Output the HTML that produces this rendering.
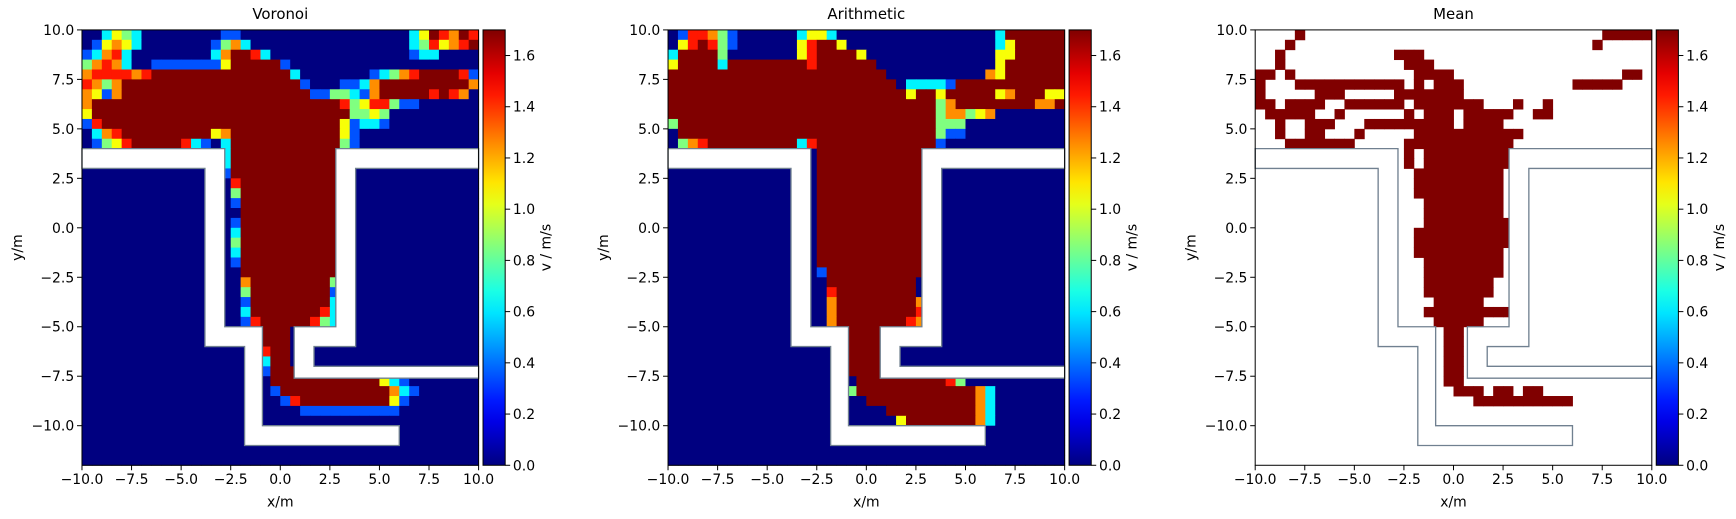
<!DOCTYPE html>
<html><head><meta charset="utf-8"><style>
html,body{margin:0;padding:0;background:#fff;overflow:hidden;}
svg{display:block;}
svg text{font-family:"DejaVu Sans","Liberation Sans",sans-serif;font-size:12.6px;fill:#000;}
</style></head><body>
<svg id="fig" xmlns="http://www.w3.org/2000/svg" width="1736" height="519" viewBox="0 0 1567 468.5" preserveAspectRatio="none">
<defs><linearGradient id="jetgrad" x1="0" y1="1" x2="0" y2="0"></linearGradient></defs>
</svg>
<script>
// ---- data ----
const panelTitles = ['Voronoi','Arithmetic','Mean'];
const xTicks = [-10,-7.5,-5,-2.5,0,2.5,5,7.5,10];
const yTicks = [10,7.5,5,2.5,0,-2.5,-5,-7.5,-10];
const cbTicks = [0,0.2,0.4,0.6,0.8,1.0,1.2,1.4,1.6];
const codeValues = {'.':0,'b':0.35,'c':0.62,'g':0.85,'y':1.05,'o':1.25,'r':1.45,'R':1.7};
const voronoiRows = [
"2.cygc8.2b17.cyRroRr",".byoyc7.bgoc16.cgryorR","bcorc8.coRRrc14.bcc4.","goroc2.7by5Rb19.",
"orrrror14Rc7.bcgorRRRRrb","rogo18Rb3.bbco6RRRRo","oybo19Rbbggcbo5RrRro.","o25Rrgyrrgbb6.",
"y26Rggyg9.","br24Rybccb9.",".cor9Ryo11Ryb12.",".bgyr5Rrcb.c11Rgb12.",
"14.c11R14.","14.c11R14.","14.b11R14.","15.r10R14.","15.g10R14.","15.b10R14.","15..10R14.",
"15.b10R14.","15.c10R14.","15.g10R14.","15.c10R14.","15.b10R14.","15..10R14.",
"16.o8Rg14.","16.g8Rb14.","16.b8Rc14.","16.c7Rrc14.","16.br5Rrgc14.",
"18.3R19.","18.3R19.","18.r2R19.","18.c2R19.","18.b4Rgyroygb10.",
"19.11Rycb7.","19.b11Rocb6.","20.br9Ryb7.","22.10b8.",
"40.","40.","40.","40.","40."];
const arithmeticRows = [
".brrogb6.cyyc16.c6R",".yrRrgb6.yrRRy15.cy5R","cRRRRg7.yrRRRRy13.yy5R","yRRRRc8Rr6R12.y6R",
"22R10.oy6R","23R.ccccbR10R","24RyRRyRR3Ryo3Ryy","27RgoR7RooR","27Rgoogyo7.","g26Rggg10.",
".26Rgbb10.",".gor9Rcr12Rb12.",
"15.11R14.","15.11R14.","15.11R14.","15.11R14.","15.11R14.","15.11R14.","15.11R14.",
"15.11R14.","15.11R14.","15.11R14.","15.11R14.","15.11R14.","15.b10R14.",
"16.9R15.","16.r8R15.","16.o8Ro14.","16.o8Rr14.","16.o7Rro14.",
"18.4R18.","18.4R18.","18.4R18.","18.4R18.","18.4R18.",
"19.9Rrg10.","18.g12Roc7.","20.11Roc7.","22.9Roc7.","23.y7Roc7.",
"40.","40.","40.","40."];
// mean: [row, firstCol, lastCol] runs of value 1.7 (others empty)
const meanRuns = [[0,4,4],[0,35,39],[1,3,3],[1,34,34],[2,2,2],[2,14,16],[3,2,2],[3,15,17],[4,0,1],[4,3,3],[4,16,19],[4,37,38],
[5,0,0],[5,4,14],[5,16,16],[5,18,20],[5,32,36],[6,0,0],[6,6,8],[6,14,20],[7,0,1],[7,3,6],[7,9,14],[7,16,22],[7,26,26],[7,29,29],
[8,1,5],[8,8,8],[8,15,15],[8,17,19],[8,21,25],[8,28,29],[9,2,2],[9,5,7],[9,11,19],[9,21,24],[10,2,2],[10,5,6],[10,10,10],[10,16,26],
[11,3,9],[11,15,25],[12,15,15],[12,17,25],[13,15,15],[13,17,25],[14,16,24],[15,16,24],[16,16,24],[17,17,24],[18,17,24],
[19,17,25],[20,16,25],[21,16,25],[22,16,24],[23,17,24],[24,17,24],[25,17,23],[26,17,23],[27,18,22],[28,17,25],[29,18,22],
[30,19,20],[31,19,20],[32,19,20],[33,19,20],[34,19,20],[35,19,20],[36,20,22],[36,24,25],[36,27,28],[37,22,31]];
const meanValue = 1.7;
const leftWall = [[-10,4],[-2.8,4],[-2.8,-5],[-0.9,-5],[-0.9,-10],[6,-10],[6,-11],[-1.8,-11],[-1.8,-6],[-3.8,-6],[-3.8,3],[-10,3]];
const rightWall = [[10,4],[2.8,4],[2.8,-5],[0.7,-5],[0.7,-7.6],[10,-7.6],[10,-7],[1.7,-7],[1.7,-6],[3.8,-6],[3.8,3],[10,3]];
const vmax = 1.7;

// ---- helpers ----
const NS='http://www.w3.org/2000/svg';
const svgRoot=document.getElementById('fig');
function mk(tag,attrs,par){const e=document.createElementNS(NS,tag);for(const k in attrs)e.setAttribute(k,attrs[k]);(par||svgRoot).appendChild(e);return e;}
function decode(s){let out='',n='';for(const chr of s){if(chr>='0'&&chr<='9'){n+=chr;}else{out+=chr.repeat(n?parseInt(n):1);n='';}}return out.padEnd(40,'.');}
function jet(t){const c=x=>Math.max(0,Math.min(1,x));const r=c(1.5-Math.abs(4*t-3)),g=c(1.5-Math.abs(4*t-2)),b=c(1.5-Math.abs(4*t-1));
 return 'rgb('+Math.round(r*255)+','+Math.round(g*255)+','+Math.round(b*255)+')';}
function fmt(v){return (v<0?'\u2212':'')+Math.abs(v).toFixed(1);}

const grad=document.getElementById('jetgrad');
for(let i=0;i<=20;i++){mk('stop',{offset:(i/20),'stop-color':jet(i/20)},grad);}

const LEFTS=[74,603,1133], TOP=27, AW=358, AH=393;
panelTitles.forEach((title,p)=>{
  const L=LEFTS[p];
  const xs=v=>L+(v+10)/20*AW, ys=v=>TOP+(10-v)/22*AH;
  const g=mk('g',{});
  
  
  const cw=xs(-9.5)-xs(-10), chh=ys(9.5)-ys(10);
  const cells=mk('g',{},g);
  
  
  function cell(r,c,v){
    const rc=mk('rect',{x:xs(-10+0.5*c),y:ys(10-0.5*r),width:cw+0.4,height:chh+0.4,fill:jet(v/vmax)},cells);
    
    
  }
  if(p<2){
    const rows=p===0?voronoiRows:arithmeticRows;
    rows.forEach((s,r)=>{const d=decode(s);for(let c=0;c<40;c++)cell(r,c,codeValues[d[c]]||0);});
  } else {
    meanRuns.forEach(run=>{for(let c=run[1];c<=run[2];c++)cell(run[0],c,meanValue);});
  }
  [leftWall,rightWall].forEach((poly,i)=>{
    const pg=mk('polygon',{points:poly.map(pt=>xs(pt[0])+','+ys(pt[1])).join(' '),fill:'#fff',stroke:'#708090','stroke-width':1.2},g);
    
    
  });
  const fr=mk('rect',{x:L,y:TOP,width:AW,height:AH,fill:'none',stroke:'#000','stroke-width':0.9},g);
  
  
  xTicks.forEach(v=>{
    mk('line',{x1:xs(v),x2:xs(v),y1:TOP+AH,y2:TOP+AH+4.5,stroke:'#000','stroke-width':0.9},g);
    const t=mk('text',{x:xs(v),y:TOP+AH+17,'text-anchor':'middle'},g);t.textContent=fmt(v);
    
    
  });
  yTicks.forEach(v=>{
    mk('line',{x1:L-4.5,x2:L,y1:ys(v),y2:ys(v),stroke:'#000','stroke-width':0.9},g);
    const t=mk('text',{x:L-7,y:ys(v)+4.5,'text-anchor':'end'},g);t.textContent=fmt(v);
    
    
  });
  const tt=mk('text',{x:L+AW/2,y:17,'text-anchor':'middle',style:'font-size:13.5px'},g);tt.textContent=title;
  
  
  const xl=mk('text',{x:L+AW/2,y:457,'text-anchor':'middle'},g);xl.textContent='x/m';
  
  
  const yl=mk('text',{x:0,y:0,'text-anchor':'middle',transform:'translate('+(L-54)+','+(TOP+AH/2)+') rotate(-90)'},g);yl.textContent='y/m';
  
  
  const cx=L+AW+4, cwid=20;
  const cb=mk('g',{},g);
  
  
  mk('rect',{x:cx,y:TOP,width:cwid,height:AH,fill:'url(#jetgrad)',stroke:'#000','stroke-width':0.9},cb);
  const cy=v=>TOP+AH-v/vmax*AH;
  cbTicks.forEach(v=>{
    mk('line',{x1:cx+cwid,x2:cx+cwid+4.5,y1:cy(v),y2:cy(v),stroke:'#000','stroke-width':0.9},cb);
    const t=mk('text',{x:cx+cwid+7,y:cy(v)+4.5},cb);t.textContent=v.toFixed(1);
    
    
  });
  const cl=mk('text',{x:0,y:0,'text-anchor':'middle',transform:'translate('+(cx+61)+','+(TOP+AH/2)+') rotate(-90)'},cb);cl.textContent='v / m/s';
  
  
});
</script>
</body></html>
